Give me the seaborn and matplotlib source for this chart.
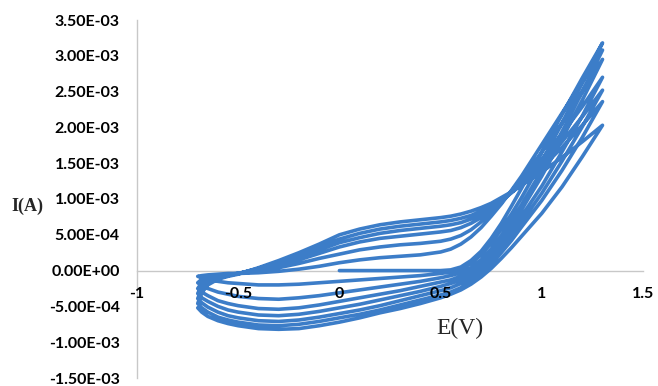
import matplotlib
matplotlib.use("Agg")
import matplotlib.pyplot as plt
import matplotlib.ticker as mticker
import numpy as np
import pandas as pd
import seaborn as sns

# Potential grid (V) shared by every sweep branch, from the cathodic vertex to the anodic vertex
potential = [-0.70, -0.68, -0.65, -0.60, -0.55, -0.50, -0.40, -0.30, -0.20, -0.10,
             0.00, 0.10, 0.20, 0.30, 0.40, 0.50, 0.55, 0.60, 0.65, 0.70, 0.75,
             0.80, 0.85, 0.90, 1.00, 1.10, 1.20, 1.30]

# First anodic sweep, started at 0 V (current in mA)
start_potential = [0.00, 0.10, 0.20, 0.30, 0.40, 0.50, 0.55, 0.60, 0.65, 0.70, 0.75,
                   0.80, 0.85, 0.90, 1.00, 1.10, 1.20, 1.30]
start_current = [0.00, 0.00, 0.00, 0.00, 0.00, 0.00, 0.01, 0.05, 0.14, 0.27, 0.45,
                 0.66, 0.90, 1.15, 1.66, 2.18, 2.69, 3.18]

# Return (cathodic) sweeps, cycles 1-7, current in mA on the potential grid
cathodic_sweeps = [
    [-0.08, -0.10, -0.12, -0.15, -0.17, -0.18, -0.20, -0.20, -0.19, -0.17,
     -0.15, -0.13, -0.11, -0.09, -0.07, -0.04, -0.02, 0.02, 0.10, 0.22, 0.38,
     0.58, 0.79, 1.02, 1.52, 2.06, 2.62, 3.18],
    [-0.17, -0.21, -0.25, -0.30, -0.33, -0.36, -0.39, -0.40, -0.38, -0.35,
     -0.31, -0.27, -0.23, -0.19, -0.15, -0.10, -0.07, -0.03, 0.04, 0.15, 0.30,
     0.49, 0.70, 0.92, 1.40, 1.94, 2.50, 3.08],
    [-0.25, -0.30, -0.35, -0.42, -0.46, -0.49, -0.53, -0.54, -0.52, -0.48,
     -0.43, -0.38, -0.33, -0.28, -0.22, -0.16, -0.13, -0.08, -0.01, 0.10, 0.25,
     0.43, 0.63, 0.85, 1.32, 1.84, 2.38, 2.95],
    [-0.32, -0.38, -0.43, -0.50, -0.55, -0.58, -0.62, -0.63, -0.61, -0.57,
     -0.52, -0.47, -0.41, -0.35, -0.29, -0.22, -0.18, -0.13, -0.05, 0.05, 0.19,
     0.36, 0.55, 0.76, 1.18, 1.66, 2.16, 2.70],
    [-0.39, -0.45, -0.51, -0.58, -0.63, -0.66, -0.70, -0.71, -0.69, -0.65,
     -0.60, -0.55, -0.49, -0.42, -0.35, -0.28, -0.24, -0.18, -0.10, 0.01, 0.14,
     0.30, 0.48, 0.68, 1.08, 1.53, 2.01, 2.52],
    [-0.46, -0.52, -0.58, -0.65, -0.69, -0.72, -0.76, -0.77, -0.75, -0.71,
     -0.66, -0.61, -0.55, -0.48, -0.41, -0.34, -0.30, -0.24, -0.15, -0.04, 0.09,
     0.25, 0.42, 0.61, 0.98, 1.40, 1.86, 2.36],
    [-0.52, -0.58, -0.64, -0.70, -0.74, -0.77, -0.81, -0.82, -0.81, -0.77,
     -0.72, -0.66, -0.59, -0.53, -0.46, -0.38, -0.33, -0.27, -0.19, -0.09, 0.03,
     0.17, 0.32, 0.48, 0.80, 1.17, 1.59, 2.03],
]

# Forward (anodic) sweeps, cycles 2-7, current in mA on the potential grid
anodic_sweeps = [
    [-0.08, -0.07, -0.06, -0.05, -0.04, -0.04, -0.03, -0.01, 0.02, 0.06,
     0.11, 0.15, 0.18, 0.20, 0.22, 0.26, 0.30, 0.37, 0.47, 0.60, 0.76,
     0.93, 1.12, 1.32, 1.76, 2.20, 2.64, 3.08],
    [-0.17, -0.12, -0.09, -0.07, -0.05, -0.04, -0.01, 0.04, 0.10, 0.17,
     0.23, 0.29, 0.33, 0.36, 0.38, 0.41, 0.44, 0.49, 0.57, 0.68, 0.81,
     0.95, 1.11, 1.28, 1.65, 2.06, 2.50, 2.95],
    [-0.25, -0.17, -0.12, -0.08, -0.06, -0.04, 0.01, 0.07, 0.15, 0.24,
     0.33, 0.40, 0.45, 0.48, 0.51, 0.54, 0.56, 0.60, 0.66, 0.74, 0.84,
     0.96, 1.09, 1.24, 1.56, 1.91, 2.29, 2.70],
    [-0.32, -0.21, -0.14, -0.09, -0.06, -0.04, 0.02, 0.10, 0.19, 0.29,
     0.39, 0.46, 0.52, 0.56, 0.59, 0.62, 0.64, 0.67, 0.72, 0.78, 0.87,
     0.97, 1.09, 1.21, 1.48, 1.80, 2.15, 2.52],
    [-0.39, -0.26, -0.17, -0.11, -0.07, -0.04, 0.03, 0.12, 0.22, 0.33,
     0.44, 0.52, 0.58, 0.62, 0.65, 0.68, 0.70, 0.73, 0.77, 0.83, 0.90,
     0.99, 1.09, 1.20, 1.44, 1.72, 2.03, 2.36],
    [-0.46, -0.31, -0.20, -0.12, -0.08, -0.05, 0.04, 0.14, 0.25, 0.37,
     0.50, 0.58, 0.64, 0.68, 0.71, 0.74, 0.76, 0.79, 0.83, 0.88, 0.94,
     1.02, 1.10, 1.19, 1.38, 1.58, 1.80, 2.03],
]

x_ticks = [-1, -0.5, 0, 0.5, 1, 1.5]
x_tick_labels = ["-1", "-0.5", "0", "0.5", "1", "1.5"]
y_ticks = [-1.5e-3, -1.0e-3, -5.0e-4, 0.0, 5.0e-4, 1.0e-3, 1.5e-3, 2.0e-3, 2.5e-3, 3.0e-3, 3.5e-3]

# Chain the sweeps in recording order: start sweep, then return / forward alternately
E_path = list(start_potential)
I_path = list(start_current)
for cycle, back in enumerate(cathodic_sweeps):
    if cycle > 0:
        E_path += potential[1:]
        I_path += anodic_sweeps[cycle - 1][1:]
    E_path += potential[::-1][1:]
    I_path += back[::-1][1:]

df = pd.DataFrame({"E": E_path, "I": np.array(I_path) * 1e-3})

sns.set_style("white")
plt.rcParams["font.family"] = ["Lato", "DejaVu Sans"]

fig = plt.figure(figsize=(6.58, 3.86), dpi=100)
ax = fig.add_axes([137 / 658, 1 - 378 / 386, (643 - 137) / 658, (378 - 20) / 386])

sns.lineplot(data=df, x="E", y="I", sort=False, estimator=None, ax=ax,
             color="#3C7DC8", linewidth=2.6, solid_joinstyle="round",
             solid_capstyle="round", zorder=2)

ax.set_xlim(-1, 1.5)
ax.set_ylim(-1.5e-3, 3.5e-3)
ax.set_xticks(x_ticks)
ax.set_xticklabels(x_tick_labels)
ax.set_yticks(y_ticks)
ax.yaxis.set_major_formatter(mticker.FuncFormatter(lambda v, p: f"{v:.2E}"))

for side in ("top", "right"):
    ax.spines[side].set_visible(False)
ax.spines["bottom"].set_position(("data", 0))
for side in ("left", "bottom"):
    ax.spines[side].set_color("#c8c8c8")
    ax.spines[side].set_linewidth(1.0)
    ax.spines[side].set_zorder(1)

# tick labels sit on top of the traces
ax.xaxis.set_zorder(4)
ax.yaxis.set_zorder(4)
ax.tick_params(axis="y", direction="out", length=3.5, width=1.0, color="#c8c8c8",
               pad=9, labelsize=11.5, labelcolor="black")
ax.tick_params(axis="x", direction="in", length=3, width=1.0, color="#c8c8c8",
               pad=12, labelsize=11.5, labelcolor="black")
for lab in ax.get_xticklabels() + ax.get_yticklabels():
    lab.set_fontweight("bold")

ax.set_xlabel("")
ax.set_ylabel("")
fig.text(27 / 658, 1 - 206 / 386, "I(A)", ha="center", va="center",
         family="Liberation Serif", fontweight="bold", fontsize=13)
fig.text(460 / 658, 1 - 328 / 386, "E(V)", ha="center", va="center",
         family="Liberation Serif", fontsize=17)

fig.savefig("out.png", dpi=100)
